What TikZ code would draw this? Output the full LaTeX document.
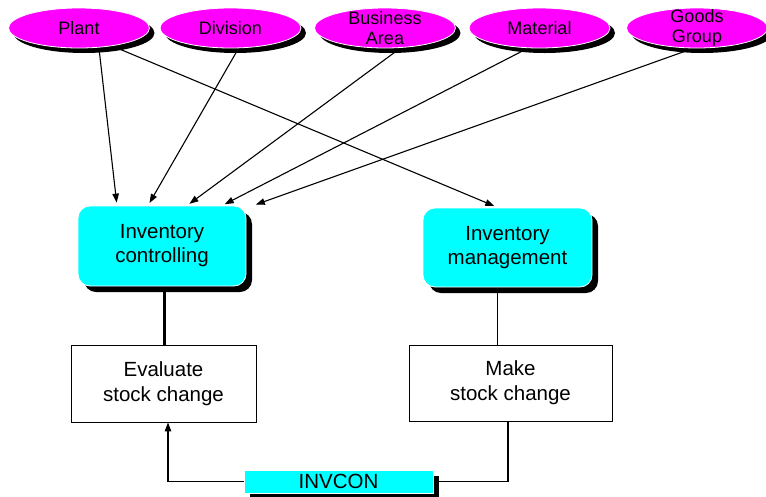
\documentclass[tikz,border=0pt]{standalone}
\usepackage{fontspec}
\setmainfont{Liberation Sans}
\usetikzlibrary{shapes.geometric, arrows.meta, shadows, backgrounds}
\definecolor{objmagenta}{RGB}{255,0,255}
\definecolor{appcyan}{RGB}{0,255,255}

\begin{document}
\begin{tikzpicture}[x=1pt, y=-1pt,
  obj_node/.style={ellipse, fill=objmagenta, draw=white, line width=0.8pt, minimum width=141pt, minimum height=40pt, inner xsep=0pt, inner ysep=-5pt, align=center, font=\fontsize{18}{19.5}\selectfont, drop shadow={shadow xshift=5pt, shadow yshift=-5pt, fill=black, opacity=1}},
  app_node/.style={rounded corners=12pt, fill=appcyan, draw=white, line width=0.8pt, minimum width=168pt, minimum height=80pt, inner sep=0pt, align=center, font=\fontsize{20.5}{24}\selectfont, drop shadow={shadow xshift=6pt, shadow yshift=-6pt, fill=black, opacity=1}},
  task_node/.style={draw, fill=white, line width=0.9pt, minimum height=77pt, inner sep=0pt, align=center, font=\fontsize{20.5}{25}\selectfont},
  arr/.style={line width=1.1pt, -{Triangle[length=9pt,width=6.5pt]}}]

\useasboundingbox (0,0) rectangle (766,496);

\node[obj_node] (plant) at (79, 28) {Plant};
\node[obj_node] (division) at (230.5, 28) {Division};
\node[obj_node] (area) at (385, 28) {Business\\Area};
\node[obj_node] (material) at (539.5, 28) {Material};
\node[obj_node] (group) at (697, 28) {Goods\\Group};

\node[app_node] (ic) at (162, 246) {Inventory\\controlling};
\node[app_node, minimum width=169pt, minimum height=79pt] (im) at (507.5, 247.5) {Inventory\\management};

\node[task_node, minimum width=185pt] (ev) at (163.5, 383.5) {Evaluate\\stock change};
\node[task_node, minimum width=203pt, minimum height=76pt] (mk) at (510.5, 383) {Make\\stock change};

\node[fill=appcyan, draw=white, line width=0.8pt, minimum width=189pt, minimum height=23pt, inner sep=0pt, font=\fontsize{20.5}{24}\selectfont, drop shadow={shadow xshift=6pt, shadow yshift=-6pt, fill=black, opacity=1}] (inv) at (338.5, 481.5) {INVCON};

\begin{pgfonlayer}{background}
\path
\foreach \i/\a/\b in {plant/20/-45, division/8/-14, area/15/25, material/-12/60, group/-4/91}{([xshift=\a pt]\i.south) edge[arr, shorten >=3pt] ([xshift=\b pt]ic.north) }
([xshift=39pt]plant.south) edge[arr, shorten >=4pt] ([xshift=-9.5pt]im.north);

\draw[line width=3pt] ([xshift=2pt]ic.south) -- ([xshift=2pt]ic.south |- ev.north);
\draw[line width=1.6pt] ([xshift=-10pt]im.south) -- ([xshift=-10pt]im.south |- mk.north);

\draw[arr] (inv.west) -| ([xshift=4.5pt]ev.south);
\draw[line width=1.1pt] (inv.east) -| ([xshift=-2.5pt]mk.south);
\end{pgfonlayer}

\end{tikzpicture}
\end{document}
